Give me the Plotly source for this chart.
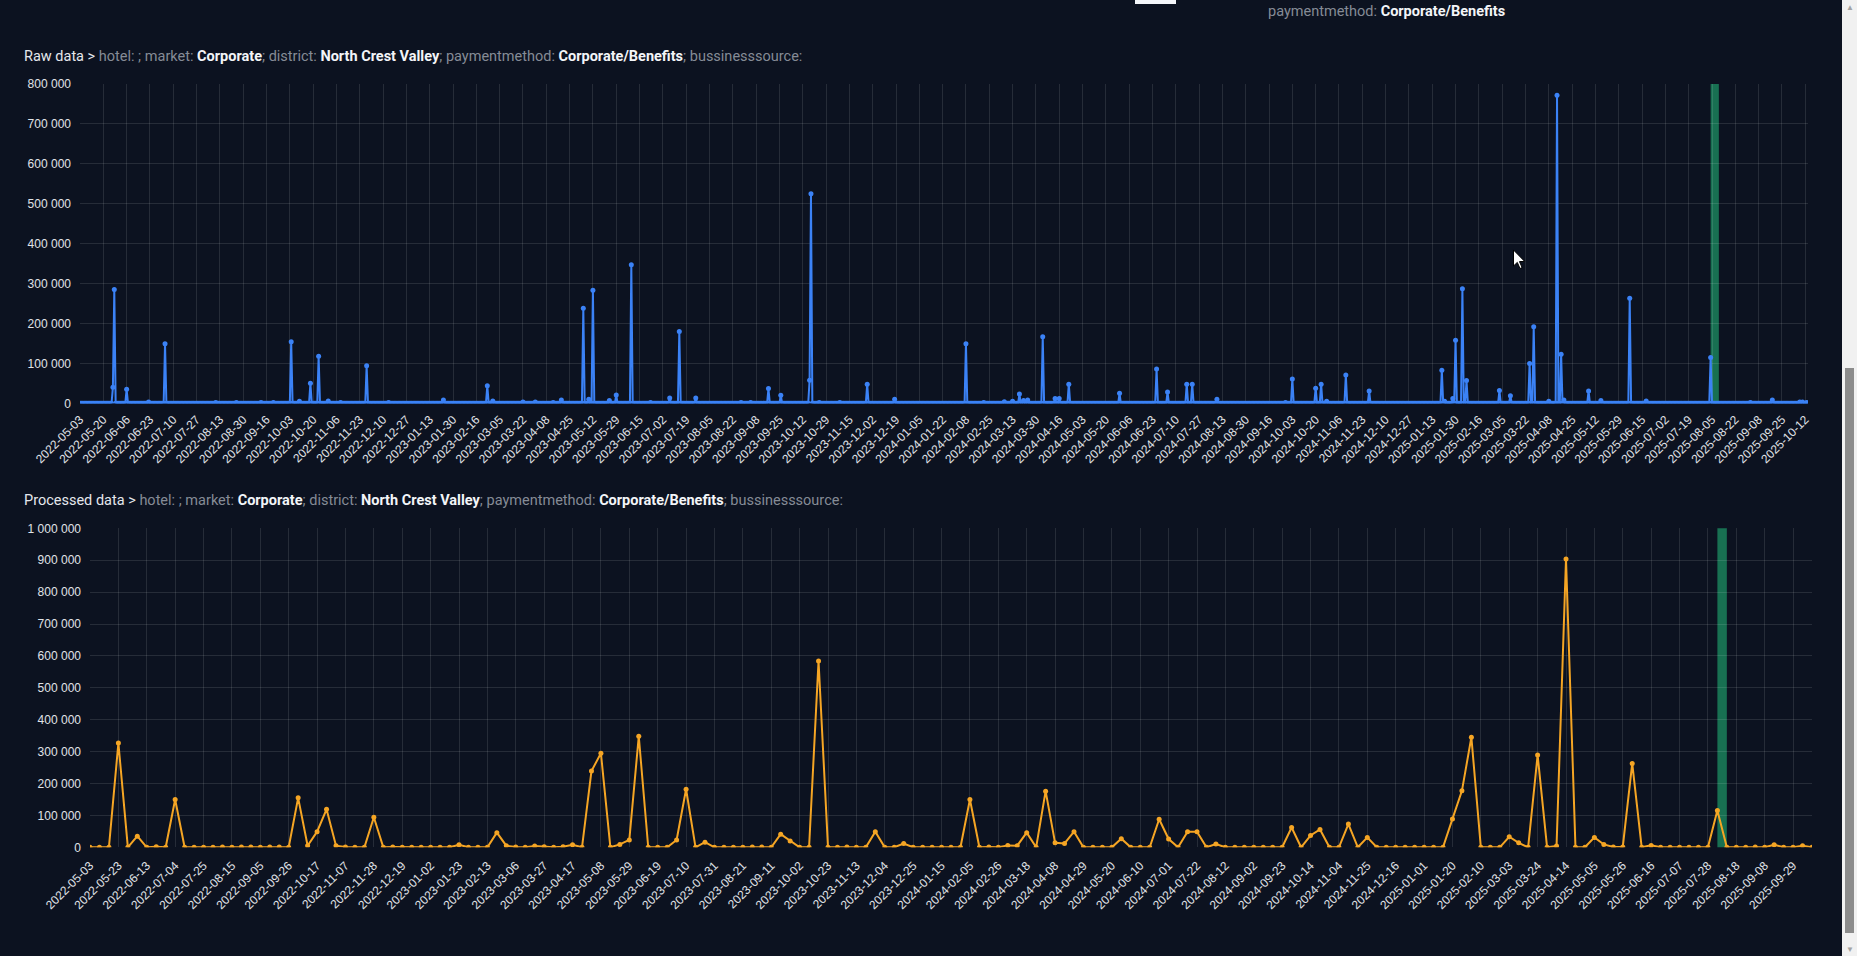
import pandas as pd
import plotly.graph_objects as go

W, H = 1857, 956

# ---------------- data ----------------
raw_start, raw_end = "2022-05-03", "2025-10-14"
raw_spike_dates = [
    "2022-05-27", "2022-05-28", "2022-06-06", "2022-06-22", "2022-07-04", "2022-08-10",
    "2022-08-25", "2022-09-12", "2022-09-21", "2022-10-04", "2022-10-10", "2022-10-18",
    "2022-10-24", "2022-10-31", "2022-11-09", "2022-11-28", "2022-12-14", "2023-01-23",
    "2023-02-24", "2023-02-28", "2023-03-22", "2023-03-31", "2023-04-13", "2023-04-19",
    "2023-05-05", "2023-05-09", "2023-05-12", "2023-05-24", "2023-05-29", "2023-06-09",
    "2023-06-23", "2023-07-07", "2023-07-14", "2023-07-26", "2023-08-28", "2023-09-04",
    "2023-09-17", "2023-09-26", "2023-10-17", "2023-10-18", "2023-10-24", "2023-11-08",
    "2023-11-28", "2023-12-18", "2024-02-08", "2024-02-21", "2024-03-07", "2024-03-13",
    "2024-03-18", "2024-03-21", "2024-03-24", "2024-04-04", "2024-04-13", "2024-04-16",
    "2024-04-23", "2024-05-30", "2024-06-26", "2024-07-04", "2024-07-18", "2024-07-22",
    "2024-08-09", "2024-09-28", "2024-10-03", "2024-10-20", "2024-10-24", "2024-10-28",
    "2024-11-11", "2024-11-28", "2025-01-20", "2025-01-22", "2025-01-28", "2025-01-30",
    "2025-02-04", "2025-02-07", "2025-03-03", "2025-03-11", "2025-03-25", "2025-03-28",
    "2025-04-08", "2025-04-14", "2025-04-17", "2025-04-19", "2025-05-07", "2025-05-16",
    "2025-06-06", "2025-06-18", "2025-08-04", "2025-09-02", "2025-09-18", "2025-10-08",
    "2025-10-10", "2025-10-13",
]
raw_spike_values = [
    40000, 285000, 35000, 3000, 149000, 2000,
    2000, 2000, 2000, 154000, 5000, 50000,
    118000, 6000, 2000, 94000, 2000, 8000,
    44000, 6000, 3000, 3000, 2000, 8000,
    238000, 10000, 283000, 7000, 21000, 347000,
    2000, 13000, 180000, 13000, 2000, 2000,
    37000, 20000, 58000, 525000, 2000, 2000,
    48000, 10000, 149000, 2000, 4000, 5000,
    23000, 7000, 8000, 167000, 12000, 12000,
    48000, 25000, 86000, 28000, 48000, 48000,
    10000, 2000, 61000, 38000, 48000, 5000,
    71000, 31000, 83000, 5000, 12000, 158000,
    287000, 57000, 32000, 19000, 100000, 192000,
    5000, 772000, 123000, 8000, 31000, 7000,
    263000, 6000, 115000, 2000, 8000, 3000,
    3000, 2000,
]

# weekly (processed) series: categories and values
week_start_labels = ["2022-05-03"]
_mondays = pd.date_range("2022-05-09", "2025-10-13", freq="7D")
for d in _mondays:
    if d == pd.Timestamp("2023-01-02"):
        week_start_labels.append("2023-01-01")
    if d == pd.Timestamp("2025-01-06"):
        week_start_labels.append("2025-01-01")
    week_start_labels.append(d.strftime("%Y-%m-%d"))

processed_values = [
    0, 0, 0, 327000, 0, 35000, 0, 2000, 0, 150000,
    0, 0, 0, 0, 1000, 0, 1000, 1000, 0, 1000,
    1000, 0, 155000, 5000, 49000, 119000, 5000, 1000, 0, 0,
    94000, 0, 1000, 0, 0, 0, 0, 0, 0, 8000,
    0, 0, 0, 46000, 5000, 1000, 0, 4000, 2000, 0,
    2000, 8000, 0, 239000, 295000, 0, 9000, 23000, 348000, 0,
    0, 0, 23000, 182000, 0, 16000, 0, 0, 0, 0,
    1000, 1000, 0, 41000, 20000, 0, 0, 584000, 0, 0,
    1000, 0, 0, 49000, 0, 0, 12000, 0, 0, 0,
    0, 0, 0, 150000, 0, 1000, 0, 6000, 5000, 46000,
    0, 176000, 14000, 12000, 49000, 0, 0, 0, 0, 27000,
    0, 0, 0, 88000, 26000, 0, 49000, 49000, 0, 10000,
    0, 0, 0, 0, 0, 0, 0, 62000, 0, 37000,
    56000, 0, 0, 73000, 0, 31000, 0, 0, 0, 0,
    0, 0, 0, 0, 89000, 177000, 345000, 0, 0, 0,
    33000, 14000, 0, 289000, 0, 4000, 904000, 0, 0, 31000,
    9000, 1000, 1000, 263000, 0, 6000, 0, 0, 0, 0,
    0, 0, 115000, 0, 0, 0, 1000, 0, 8000, 0,
    0, 5000, 0,
]

raw_tick_dates = [d.strftime("%Y-%m-%d") for d in pd.date_range("2022-05-03", "2025-10-12", freq="17D")]
processed_tick_labels = week_start_labels[::3]

highlight_raw = ("2025-08-04", "2025-08-10")
highlight_processed = (week_start_labels[172], week_start_labels[173])

raw_dates = pd.date_range(raw_start, raw_end, freq="D")
_spikes = dict(zip(pd.to_datetime(raw_spike_dates), raw_spike_values))
raw_values = [_spikes.get(d, 0) for d in raw_dates]

# ---------------- style ----------------
BG = "#0c1220"
GRID = "rgba(255,255,255,0.11)"
TICK = dict(family="Liberation Sans, Arial, sans-serif", size=12, color="#e0e3e8")
BLUE = "#3b82f6"
ORANGE = "#f5a524"
BAND = "#187052"

def px_x(p):
    return p / W

def px_y(p):
    return 1 - p / H

fig = go.Figure()
fig.add_trace(go.Scatter(
    x=raw_dates, y=raw_values, mode="lines+markers",
    line=dict(color=BLUE, width=2), marker=dict(size=5, color=BLUE),
    xaxis="x", yaxis="y", showlegend=False, hoverinfo="x+y"))
fig.add_trace(go.Scatter(
    x=week_start_labels, y=processed_values, mode="lines+markers",
    line=dict(color=ORANGE, width=2), marker=dict(size=5, color=ORANGE),
    xaxis="x2", yaxis="y2", showlegend=False, hoverinfo="x+y"))

fig.update_layout(
    width=W, height=H, autosize=False,
    margin=dict(l=0, r=0, t=0, b=0, pad=0),
    paper_bgcolor=BG, plot_bgcolor=BG,
    separators=". ",
    xaxis=dict(domain=[px_x(80), px_x(1808)], anchor="y", type="date", automargin=False,
               range=[raw_start, raw_end], tickmode="array",
               tickvals=raw_tick_dates, ticktext=raw_tick_dates, tickangle=-45,
               showgrid=True, gridcolor=GRID, gridwidth=1, zeroline=False,
               showline=False, tickfont=TICK, ticks="", ticklabelstandoff=6),
    yaxis=dict(domain=[px_y(403.3), px_y(84)], anchor="x", range=[0, 800000], automargin=False,
               dtick=100000, tickformat=",d", showgrid=True, gridcolor=GRID,
               zeroline=False, tickfont=TICK, ticklabelstandoff=8),
    xaxis2=dict(domain=[px_x(90), px_x(1812)], anchor="y2", type="category", automargin=False,
                range=[0, len(week_start_labels) - 1], tickmode="array",
                tickvals=processed_tick_labels, ticktext=processed_tick_labels,
                tickangle=-45, showgrid=True, gridcolor=GRID, zeroline=False,
                tickfont=TICK, ticks="", ticklabelstandoff=8),
    yaxis2=dict(domain=[px_y(847.3), px_y(528.3)], anchor="x2", range=[0, 1000000], automargin=False,
                dtick=100000, tickformat=",d", showgrid=True, gridcolor=GRID,
                zeroline=False, tickfont=TICK, ticklabelstandoff=8),
)

# highlight bands
fig.add_shape(type="rect", xref="x", yref="y domain", x0=highlight_raw[0], x1=highlight_raw[1],
              y0=0, y1=1, fillcolor=BAND, line_width=0, layer="below")
fig.add_shape(type="rect", xref="x2", yref="y2 domain", x0=highlight_processed[0], x1=highlight_processed[1],
              y0=0, y1=1, fillcolor=BAND, line_width=0, layer="below")

TITLE_FONT = dict(family="Roboto, 'Open Sans', sans-serif", size=14.5, color="#e4e7ec")
GRAY = "#858b96"
WHITE = "#f3f5f8"

def title_text(prefix):
    return (f"{prefix} &gt; "
            f"<span style='color:{GRAY}'>hotel: ; market: </span><b style='color:{WHITE}'>Corporate</b>"
            f"<span style='color:{GRAY}'>; district: </span><b style='color:{WHITE}'>North Crest Valley</b>"
            f"<span style='color:{GRAY}'>; paymentmethod: </span><b style='color:{WHITE}'>Corporate/Benefits</b>"
            f"<span style='color:{GRAY}'>; bussinesssource:</span>")

fig.add_annotation(xref="paper", yref="paper", x=px_x(22), y=px_y(56), xanchor="left", yanchor="middle",
                   text=title_text("Raw data"), showarrow=False, font=TITLE_FONT)
fig.add_annotation(xref="paper", yref="paper", x=px_x(22), y=px_y(500), xanchor="left", yanchor="middle",
                   text=title_text("Processed data"), showarrow=False, font=TITLE_FONT)

# remnants of the page above (scrolled)
fig.add_annotation(xref="paper", yref="paper", x=px_x(1266), y=px_y(12), xanchor="left", yanchor="middle",
                   text=f"<span style='color:{GRAY}'>paymentmethod: </span><b style='color:{WHITE}'>Corporate/Benefits</b>",
                   showarrow=False, font=dict(family="Roboto, 'Open Sans', sans-serif", size=14.5))
fig.add_shape(type="rect", xref="paper", yref="paper", x0=px_x(1135), x1=px_x(1176), y0=px_y(4), y1=px_y(-4),
              fillcolor="#f4f6fa", line_width=0)

# mouse pointer visible in the screenshot
_tip = (1513.5, 250.0)
_arrow = [(0, 0), (0, 16), (3.8, 12.4), (6.5, 18.5), (8.6, 17.6), (6.0, 11.6), (11.2, 11.4)]
_path = "M " + " L ".join(f"{px_x(_tip[0] + dx):.6f},{px_y(_tip[1] + dy):.6f}" for dx, dy in _arrow) + " Z"
fig.add_shape(type="path", xref="paper", yref="paper", path=_path,
              fillcolor="#ffffff", line=dict(color="#000000", width=1))

# browser scrollbar
fig.add_shape(type="rect", xref="paper", yref="paper", x0=px_x(1842), x1=px_x(1857), y0=0, y1=1,
              fillcolor="#f1f1f1", line_width=0)
fig.add_shape(type="rect", xref="paper", yref="paper", x0=px_x(1845), x1=px_x(1854), y0=px_y(933), y1=px_y(368),
              fillcolor="#8c8c8c", line_width=0)
fig.add_annotation(xref="paper", yref="paper", x=px_x(1849.5), y=px_y(6), text="▲", showarrow=False,
                   font=dict(size=8, color="#a3a3a3"), xanchor="center", yanchor="middle")
fig.add_annotation(xref="paper", yref="paper", x=px_x(1849.5), y=px_y(948), text="▼", showarrow=False,
                   font=dict(size=8, color="#a3a3a3"), xanchor="center", yanchor="middle")

fig.write_html("out.html")
